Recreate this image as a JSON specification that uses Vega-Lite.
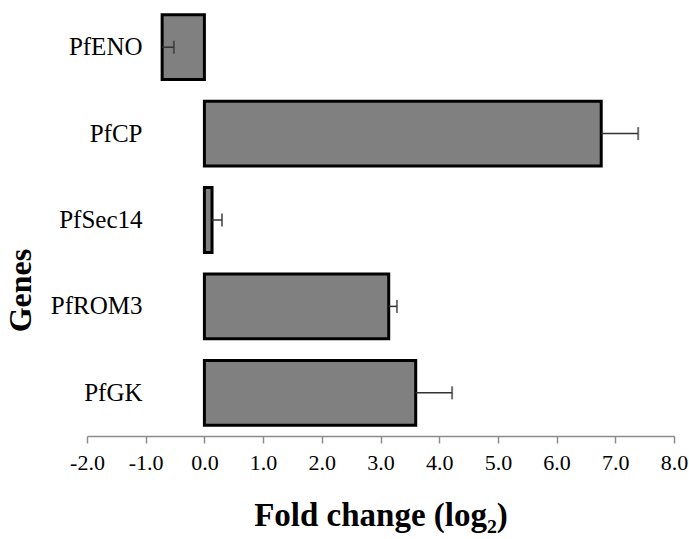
{
  "$schema": "https://vega.github.io/schema/vega-lite/v6.json",
  "autosize": {"type": "none"},
  "padding": {"left": 87, "top": 4, "right": 15, "bottom": 103},
  "width": 587,
  "height": 432,
  "background": "white",
  "config": {"view": {"stroke": null}, "font": "Liberation Serif"},
  "data": {
    "values": [
      {"gene": "PfENO", "value": -0.72, "err_end": -0.52},
      {"gene": "PfCP", "value": 6.76, "err_end": 7.39},
      {"gene": "PfSec14", "value": 0.13, "err_end": 0.3},
      {"gene": "PfROM3", "value": 3.14, "err_end": 3.28},
      {"gene": "PfGK", "value": 3.6, "err_end": 4.22}
    ]
  },
  "encoding": {
    "y": {
      "field": "gene",
      "type": "nominal",
      "sort": null,
      "scale": {"paddingInner": 0.25, "paddingOuter": 0.125},
      "axis": {
        "title": "Genes",
        "titleFont": "Liberation Serif",
        "titleFontSize": 32,
        "titleFontWeight": "bold",
        "titleColor": "black",
        "titleAngle": -90,
        "titleBaseline": "alphabetic",
        "titleAlign": "center",
        "titleX": -112,
        "titleY": 286,
        "offset": -55,
        "domain": false,
        "ticks": false,
        "labelPadding": 0,
        "labelFont": "Liberation Serif",
        "labelFontSize": 25,
        "labelColor": "black",
        "grid": false
      }
    }
  },
  "layer": [
    {
      "mark": {"type": "bar", "fill": "#808080", "stroke": "black", "strokeWidth": 3},
      "encoding": {
        "x": {
          "field": "value",
          "type": "quantitative",
          "scale": {"domain": [-2, 8], "nice": false, "zero": false},
          "axis": {
            "values": [-2, -1, 0, 1, 2, 3, 4, 5, 6, 7, 8],
            "labelExpr": "(datum.value < 0 ? '-' : '') + format(abs(datum.value), '.1f')",
            "grid": false,
            "domainColor": "#8c8c8c",
            "domainWidth": 1.5,
            "tickColor": "#8c8c8c",
            "tickWidth": 1.5,
            "tickSize": 7,
            "labelPadding": 9,
            "labelFont": "Liberation Serif",
            "labelFontSize": 22,
            "labelColor": "black",
            "labelFlush": false,
            "title": "Fold change (log₂)",
            "titleFont": "Liberation Serif",
            "titleFontSize": 33,
            "titleFontWeight": "bold",
            "titleColor": "black",
            "titlePadding": 26
          }
        }
      }
    },
    {
      "mark": {"type": "rule", "color": "#8c8c8c", "strokeWidth": 1.5},
      "encoding": {"x": {"datum": 0}}
    },
    {
      "mark": {"type": "rule", "color": "#333333", "strokeWidth": 1.5},
      "encoding": {
        "x": {"field": "value", "type": "quantitative"},
        "x2": {"field": "err_end"}
      }
    },
    {
      "mark": {"type": "tick", "orient": "vertical", "color": "#333333", "thickness": 2, "size": 13},
      "encoding": {
        "x": {"field": "err_end", "type": "quantitative"}
      }
    }
  ]
}
